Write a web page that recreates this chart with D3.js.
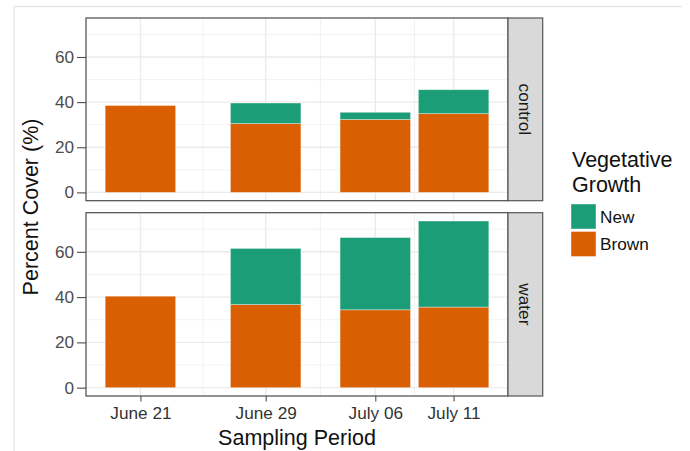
<!DOCTYPE html>
<html>
<head>
<meta charset="utf-8">
<script src="https://cdn.jsdelivr.net/npm/d3@7"></script>
<style>
  html, body { margin: 0; padding: 0; background: #fff; }
  svg { display: block; font-family: "Liberation Sans", Arial, sans-serif; }
</style>
</head>
<body>
<svg id="chart" width="690" height="451"></svg>
<script>
// ---- data ----
const dates = ["2016-06-21", "2016-06-29", "2016-07-06", "2016-07-11"];
const tickLabels = ["June 21", "June 29", "July 06", "July 11"];
const facets = ["control", "water"];
const controlBrown = [38.5, 30.5, 32.3, 34.9];
const controlNew   = [0.0, 9.1, 3.2, 10.6];
const waterBrown   = [40.4, 36.7, 34.4, 35.6];
const waterNew     = [0.0, 24.8, 31.9, 38.0];
const seriesNames = ["New", "Brown"];
const seriesColors = ["#1B9E77", "#D95F02"];
const yTicks = [0, 20, 40, 60];
const yMinor = [10, 30, 50, 70];

// ---- layout ----
const svg = d3.select("#chart");
const panelX0 = 86, panelX1 = 508;
const stripW = 34.7;
const panels = [
  { name: "control", y0: 18, y1: 200.7, brown: controlBrown, newv: controlNew },
  { name: "water", y0: 212.7, y1: 396, brown: waterBrown, newv: waterNew }
];
const day = 86400000;
const parsed = dates.map(d => new Date(d + "T00:00:00Z"));
const barHalf = 2.25 * day;
const dmin = +parsed[0] - barHalf, dmax = +parsed[parsed.length - 1] + barHalf;
const pad = (dmax - dmin) * 0.05;
const x = d3.scaleUtc().domain([new Date(dmin - pad), new Date(dmax + pad)]).range([panelX0, panelX1]);

const allTotals = [];
panels.forEach(p => p.brown.forEach((b, i) => allTotals.push(b + p.newv[i])));
const ymax = d3.max(allTotals);
const ypad = ymax * 0.05;

// minor x grid positions (midpoints between breaks)
const xMinor = [];
for (let i = 0; i < parsed.length - 1; i++) xMinor.push(new Date((+parsed[i] + +parsed[i + 1]) / 2));

// outer frame of the screenshot
svg.append("line").attr("x1", 14).attr("x2", 682).attr("y1", 6.5).attr("y2", 6.5)
  .attr("stroke", "#e6e6e6").attr("stroke-width", 1.4);
svg.append("line").attr("x1", 14).attr("x2", 14).attr("y1", 6).attr("y2", 451)
  .attr("stroke", "#e3e3e3").attr("stroke-width", 1.2);

panels.forEach((p, pi) => {
  const y = d3.scaleLinear().domain([-ypad, ymax + ypad]).range([p.y1, p.y0]);
  const g = svg.append("g");
  // background
  g.append("rect").attr("x", panelX0).attr("y", p.y0).attr("width", panelX1 - panelX0).attr("height", p.y1 - p.y0).attr("fill", "#fff");
  // minor grid
  g.selectAll(".hmin").data(yMinor).join("line")
    .attr("x1", panelX0).attr("x2", panelX1).attr("y1", d => y(d)).attr("y2", d => y(d))
    .attr("stroke", "#efefef").attr("stroke-width", 0.8);
  g.selectAll(".vmin").data(xMinor).join("line")
    .attr("y1", p.y0).attr("y2", p.y1).attr("x1", d => x(d)).attr("x2", d => x(d))
    .attr("stroke", "#efefef").attr("stroke-width", 0.8);
  // major grid
  g.selectAll(".hmaj").data(yTicks).join("line")
    .attr("x1", panelX0).attr("x2", panelX1).attr("y1", d => y(d)).attr("y2", d => y(d))
    .attr("stroke", "#ebebeb").attr("stroke-width", 1.4);
  g.selectAll(".vmaj").data(parsed).join("line")
    .attr("y1", p.y0).attr("y2", p.y1).attr("x1", d => x(d)).attr("x2", d => x(d))
    .attr("stroke", "#ebebeb").attr("stroke-width", 1.4);

  // stacked bars
  const rows = parsed.map((d, i) => ({ date: d, Brown: p.brown[i], New: p.newv[i] }));
  const stack = d3.stack().keys(["Brown", "New"])(rows);
  stack.forEach(layer => {
    const color = seriesColors[seriesNames.indexOf(layer.key)];
    g.selectAll(null).data(layer.filter(s => s[1] - s[0] > 0)).join("rect")
      .attr("x", s => x(new Date(+s.data.date - barHalf)))
      .attr("width", s => x(new Date(+s.data.date + barHalf)) - x(new Date(+s.data.date - barHalf)))
      .attr("y", s => y(s[1]))
      .attr("height", s => y(s[0]) - y(s[1]))
      .attr("fill", color)
      .attr("stroke", "rgba(255,255,255,0.45)").attr("stroke-width", 0.8);
  });

  // y axis
  const yAxis = d3.axisLeft(y).tickValues(yTicks).tickSize(9).tickPadding(3).tickFormat(d3.format("d"));
  const ya = svg.append("g").attr("transform", `translate(${panelX0},0)`).call(yAxis);
  ya.select(".domain").remove();
  ya.selectAll("line").attr("stroke", "#4d4d4d").attr("stroke-width", 1.1);
  ya.selectAll("text").attr("fill", "#4d4d4d").attr("font-size", 17.2)
    .attr("font-family", "Liberation Sans, Arial, sans-serif");

  // panel border
  svg.append("rect").attr("x", panelX0).attr("y", p.y0).attr("width", panelX1 - panelX0).attr("height", p.y1 - p.y0)
    .attr("fill", "none").attr("stroke", "#4a4a4a").attr("stroke-width", 1.2);

  // strip
  svg.append("rect").attr("x", panelX1).attr("y", p.y0).attr("width", stripW).attr("height", p.y1 - p.y0)
    .attr("fill", "#d9d9d9").attr("stroke", "#555").attr("stroke-width", 1.2);
  const cx = panelX1 + stripW / 2, cy = (p.y0 + p.y1) / 2;
  svg.append("text").attr("transform", `translate(${cx},${cy}) rotate(90)`)
    .attr("text-anchor", "middle").attr("dy", "0.35em")
    .attr("font-size", 17.2).attr("fill", "#1a1a1a").text(facets[pi]);

  // x axis on bottom panel
  if (pi === panels.length - 1) {
    const xAxis = d3.axisBottom(x).tickValues(parsed).tickSize(5.5).tickPadding(5)
      .tickFormat((d, i) => tickLabels[i]);
    const xa = svg.append("g").attr("transform", `translate(0,${p.y1})`).call(xAxis);
    xa.select(".domain").remove();
    xa.selectAll("line").attr("stroke", "#4d4d4d").attr("stroke-width", 1.1);
    xa.selectAll("text").attr("fill", "#333").attr("font-size", 17.2)
      .attr("font-family", "Liberation Sans, Arial, sans-serif");
  }
});

// axis titles
svg.append("text").attr("x", (panelX0 + panelX1) / 2).attr("y", 445)
  .attr("text-anchor", "middle").attr("font-size", 21.5).attr("fill", "#111").text("Sampling Period");
svg.append("text").attr("transform", `translate(38,${(panels[0].y0 + panels[1].y1) / 2}) rotate(-90)`)
  .attr("text-anchor", "middle").attr("font-size", 21.5).attr("fill", "#111").text("Percent Cover (%)");

// legend
const lg = svg.append("g");
lg.append("text").attr("x", 572).attr("y", 166.5).attr("font-size", 21.5).attr("fill", "#111").text("Vegetative");
lg.append("text").attr("x", 572).attr("y", 191.5).attr("font-size", 21.5).attr("fill", "#111").text("Growth");
seriesNames.forEach((n, i) => {
  const ky = 204 + i * 27.5;
  lg.append("rect").attr("x", 571).attr("y", ky).attr("width", 25).attr("height", 25)
    .attr("fill", seriesColors[i]).attr("stroke", "rgba(255,255,255,0.5)").attr("stroke-width", 0.8);
  lg.append("text").attr("x", 600).attr("y", ky + 12.5).attr("dy", "0.35em")
    .attr("font-size", 17.2).attr("fill", "#111").text(n);
});
</script>
</body>
</html>
